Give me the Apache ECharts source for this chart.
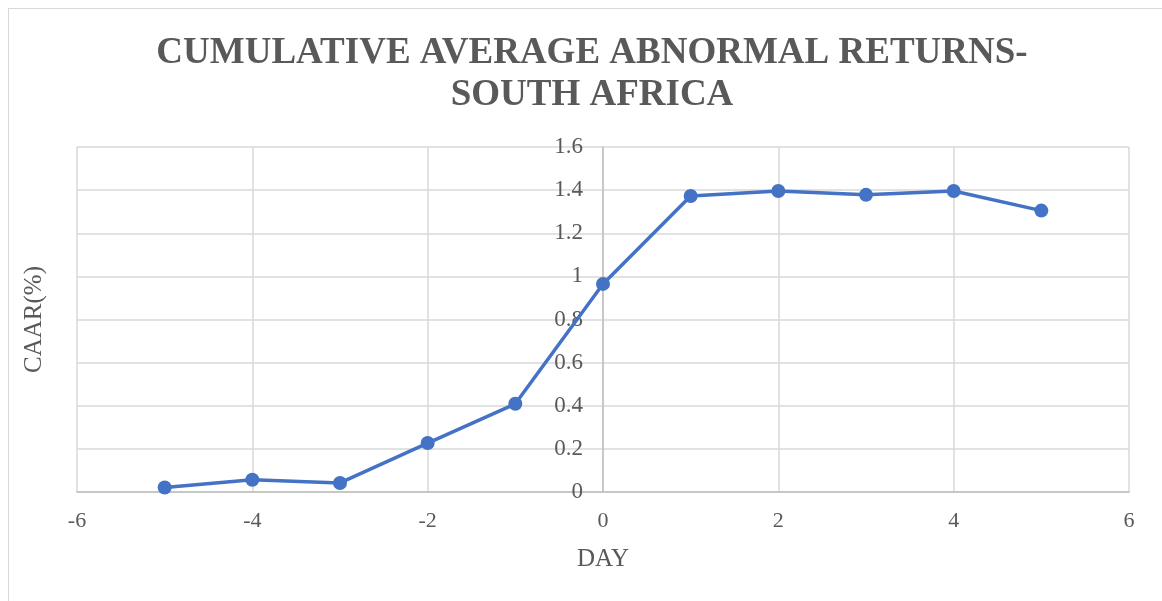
<!DOCTYPE html>
<html>
<head>
<meta charset="utf-8">
<script src="https://cdn.jsdelivr.net/npm/echarts@6/dist/echarts.min.js"></script>
<style>
html,body{margin:0;padding:0;background:#fff;overflow:hidden;}
#frame{position:absolute;left:8px;top:8px;width:1300px;height:800px;border:1.5px solid #d9d9d9;box-sizing:border-box;}
#chart{position:absolute;left:0;top:0;width:1162px;height:601px;}
</style>
</head>
<body>
<div id="frame"></div>
<div id="chart"></div>
<script>
const titleText = 'CUMULATIVE AVERAGE ABNORMAL RETURNS-\nSOUTH AFRICA';
const xName = 'DAY';
const yName = 'CAAR(%)';
const days = [-5, -4, -3, -2, -1, 0, 1, 2, 3, 4, 5];
const caar = [0.021, 0.057, 0.042, 0.227, 0.409, 0.965, 1.373, 1.396, 1.378, 1.396, 1.305];
const xMin = -6, xMax = 6, xStep = 2;
const yMin = 0, yMax = 1.6, yStep = 0.2;

const textColor = '#595959';
const font = '"Liberation Serif", "Times New Roman", serif';

const gridLeft = 77, gridRight = 33, W = 1162;
const gridW = W - gridLeft - gridRight;
// y axis crosses the x axis at 0
const crossPx = gridW * (0 - xMin) / (xMax - xMin);

const chart = echarts.init(document.getElementById('chart'), null, {renderer: 'canvas'});
chart.setOption({
  animation: false,
  backgroundColor: 'transparent',
  title: {
    text: titleText,
    left: 587,
    top: 27,
    textAlign: 'center',
    textStyle: {fontFamily: font, fontSize: 37, fontWeight: 'bold', color: textColor, lineHeight: 42}
  },
  grid: {left: gridLeft, right: gridRight, top: 147, bottom: 109, containLabel: false, outerBoundsMode: 'none'},
  xAxis: {
    type: 'value', min: xMin, max: xMax, interval: xStep,
    name: xName, nameLocation: 'middle', nameGap: 55,
    nameTextStyle: {fontFamily: font, fontSize: 25, color: textColor},
    axisLine: {show: true, onZero: false, lineStyle: {color: '#bfbfbf', width: 1.5}},
    axisTick: {show: false},
    axisLabel: {fontFamily: font, fontSize: 22, color: textColor, margin: 18},
    splitLine: {show: true, lineStyle: {color: '#d9d9d9', width: 1.5}}
  },
  yAxis: {
    type: 'value', min: yMin, max: yMax, interval: yStep,
    offset: -crossPx,
    name: yName, nameLocation: 'middle', nameRotate: 90, nameGap: crossPx + 30,
    nameTextStyle: {fontFamily: font, fontSize: 25, color: textColor},
    axisLine: {show: true, onZero: false, lineStyle: {color: '#bfbfbf', width: 1.5}},
    axisTick: {show: false},
    axisLabel: {fontFamily: font, fontSize: 23, color: textColor, margin: 20},
    splitLine: {show: true, lineStyle: {color: '#d9d9d9', width: 1.5}}
  },
  series: [{
    type: 'line',
    data: days.map((d, i) => [d, caar[i]]),
    lineStyle: {color: '#4472C4', width: 3.5},
    itemStyle: {color: '#4472C4'},
    symbol: 'circle', symbolSize: 14,
    showSymbol: true
  }]
});
</script>
</body>
</html>
